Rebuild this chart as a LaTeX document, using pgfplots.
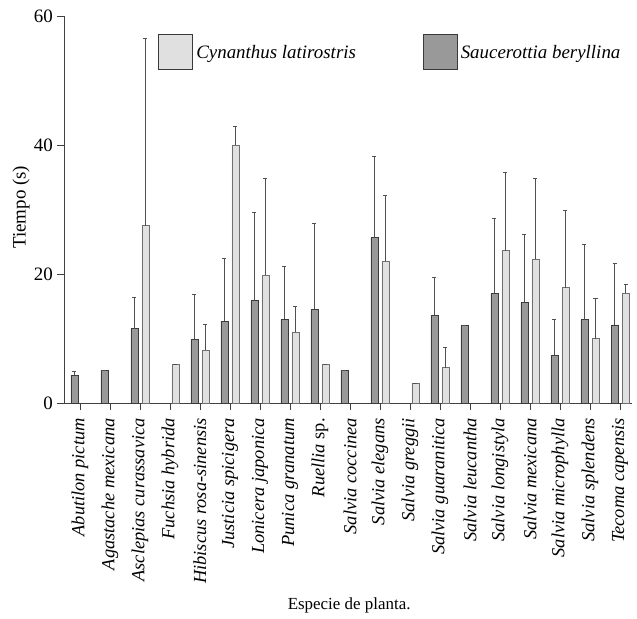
\documentclass[border=0pt]{standalone}
\usepackage{pgfplots}
\pgfplotsset{compat=1.18}
\usepackage{fontspec}
\setmainfont{Liberation Serif}
\definecolor{darkbar}{HTML}{999999}
\definecolor{lightbar}{HTML}{E0E0E0}
\definecolor{darkedge}{HTML}{3A3A3A}
\definecolor{lightedge}{HTML}{707070}
\definecolor{errc}{HTML}{505050}
\begin{document}
\begin{tikzpicture}
\useasboundingbox (-64bp,-216bp) rectangle (573bp,403bp);
\begin{axis}[
  at={(0,0)}, anchor=south west,
  scale only axis,
  width=568bp, height=387bp,
  xmin=-0.53, xmax=18.4,
  ymin=0, ymax=60,
  axis x line*=bottom, axis y line*=left,
  axis line style={draw=black!75,-},
  tick align=outside,
  major tick length=7bp,
  tick style={draw=black!75},
  ytick={0,20,40,60},
  xtick={0,...,18},
  /pgf/number format/assume math mode=true,
  yticklabel style={font=\fontsize{19}{22}\selectfont, inner xsep=4bp},
  xticklabel style={rotate=90, anchor=east, inner xsep=8bp, font=\fontsize{18.5}{21}\selectfont},
  xticklabels={\textit{Abutilon pictum},\textit{Agastache mexicana},\textit{Asclepias curassavica},\textit{Fuchsia hybrida},\textit{Hibiscus rosa-sinensis},\textit{Justicia spicigera},\textit{Lonicera japonica},\textit{Punica granatum},\textit{Ruellia} sp.,\textit{Salvia coccinea},\textit{Salvia elegans},\textit{Salvia greggii},\textit{Salvia guaranitica},\textit{Salvia leucantha},\textit{Salvia longistyla},\textit{Salvia mexicana},\textit{Salvia microphylla},\textit{Salvia splendens},\textit{Tecoma capensis}},
  ylabel={Tiempo (s)},
  ylabel style={at={(axis description cs:-0.0757,0.506)}, anchor=center, font=\fontsize{19}{22}\selectfont},
  xlabel={Especie de planta.},
  xlabel style={at={(axis description cs:0.502,-0.522)}, anchor=center, font=\fontsize{17}{20}\selectfont},
  legend style={at={(axis description cs:0.166,0.906)}, anchor=west, draw=none, fill=none,
    font=\itshape\fontsize{19}{22}\selectfont, inner sep=0pt,
    nodes={inner sep=3bp}},
  legend columns=2,
  legend cell align=left,
  /tikz/every even column/.append style={column sep=64bp},
  error bars/y dir=plus,
  error bars/y explicit,
  error bars/error bar style={draw=errc, line width=0.7bp},
  error bars/error mark options={rotate=90, mark size=2bp, draw=errc, line width=0.7bp},
]
\addplot[ybar, bar width=7bp, bar shift=0pt, x filter/.expression={x+0.18333},
  draw=lightedge, fill=lightbar, line width=0.8bp,
  legend image code/.code={\draw[draw=darkedge, fill=lightbar, line width=0.8bp] (0bp,-17.5bp) rectangle (34bp,17.5bp);}]
  coordinates {
  (2,27.5) +- (0,29.0)
  (3,6.0) +- (0,0)
  (4,8.2) +- (0,4.05)
  (5,40.0) +- (0,2.85)
  (6,19.8) +- (0,15.1)
  (7,11.0) +- (0,4.0)
  (8,6.0) +- (0,0)
  (10,22.0) +- (0,10.2)
  (11,3.0) +- (0,0)
  (12,5.5) +- (0,3.1)
  (14,23.6) +- (0,12.2)
  (15,22.3) +- (0,12.6)
  (16,17.9) +- (0,11.9)
  (17,10.0) +- (0,6.2)
  (18,17.0) +- (0,1.4)
  };
\addlegendentry{Cynanthus latirostris}
\addplot[ybar, bar width=7bp, bar shift=0pt, x filter/.expression={x-0.18333},
  draw=darkedge, fill=darkbar, line width=0.8bp,
  legend image code/.code={\draw[draw=darkedge, fill=darkbar, line width=0.8bp] (0bp,-17.5bp) rectangle (34bp,17.5bp);}]
  coordinates {
  (0,4.3) +- (0,0.6)
  (1,5.0) +- (0,0)
  (2,11.5) +- (0,4.9)
  (4,9.8) +- (0,7.1)
  (5,12.7) +- (0,9.7)
  (6,15.9) +- (0,13.6)
  (7,13.0) +- (0,8.2)
  (8,14.5) +- (0,13.4)
  (9,5.0) +- (0,0)
  (10,25.6) +- (0,12.6)
  (12,13.6) +- (0,5.9)
  (13,12.0) +- (0,0)
  (14,17.0) +- (0,11.6)
  (15,15.6) +- (0,10.6)
  (16,7.4) +- (0,5.6)
  (17,12.9) +- (0,11.7)
  (18,12.1) +- (0,9.6)
  };
\addlegendentry{Saucerottia beryllina}
\end{axis}
\end{tikzpicture}
\end{document}
